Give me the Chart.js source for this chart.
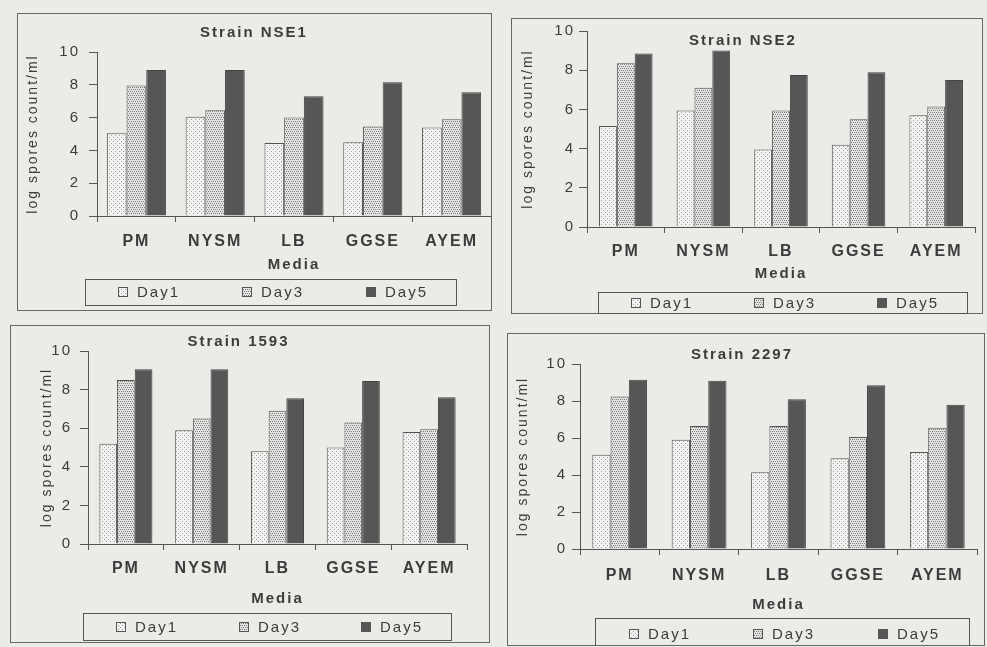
<!DOCTYPE html>
<html><head><meta charset="utf-8">
<script src="https://cdn.jsdelivr.net/npm/chart.js@4.4.1/dist/chart.umd.min.js"></script>
<style>
html,body{margin:0;padding:0;background:#ecebe8;}
body{width:987px;height:647px;position:relative;overflow:hidden;}
canvas{position:absolute;}
</style></head><body>
<canvas id="c1"></canvas>
<canvas id="c2"></canvas>
<canvas id="c3"></canvas>
<canvas id="c4"></canvas>
<script>
// ---- data ----
const categories = ['PM', 'NYSM', 'LB', 'GGSE', 'AYEM'];
const seriesNames = ['Day1', 'Day3', 'Day5'];
const yTicks = [0, 2, 4, 6, 8, 10];
const xTitle = 'Media';
const yTitle = 'log spores count/ml';
const titles = ['Strain NSE1', 'Strain NSE2', 'Strain 1593', 'Strain 2297'];

const nse1Day1 = [5.05, 6.05, 4.45, 4.5, 5.4];
const nse1Day3 = [7.95, 6.45, 6.0, 5.45, 5.9];
const nse1Day5 = [8.9, 8.9, 7.3, 8.15, 7.55];

const nse2Day1 = [5.15, 5.95, 3.95, 4.2, 5.7];
const nse2Day3 = [8.35, 7.1, 5.95, 5.5, 6.15];
const nse2Day5 = [8.85, 9.0, 7.75, 7.9, 7.5];

const s1593Day1 = [5.2, 5.9, 4.8, 5.0, 5.8];
const s1593Day3 = [8.5, 6.5, 6.9, 6.3, 5.95];
const s1593Day5 = [9.05, 9.05, 7.55, 8.45, 7.6];

const s2297Day1 = [5.1, 5.9, 4.15, 4.9, 5.25];
const s2297Day3 = [8.25, 6.65, 6.65, 6.05, 6.55];
const s2297Day5 = [9.15, 9.1, 8.1, 8.85, 7.8];

// ---- layout / style ----
const FONT = '"Liberation Sans", Arial, sans-serif';
const TXT = '#3c3c3c';
const LINE = '#555';

const layouts = [
  {id:'c1', frame:[17,13,475,298], yw:80, padR:1, tTop:11, tBot:10, hx:61, padB:34, yTitlePad:8, yTickPad:9, xTickPad:10, cat:0.75, box:[68,266,439,292]},
  {id:'c2', frame:[511,18,472,296], yw:76, padR:8, tTop:12, tBot:-19, hx:59, padB:28, yTitlePad:9, yTickPad:4, xTickPad:9, cat:0.69, box:[87,274,456,295]},
  {id:'c3', frame:[10,325,480,318], yw:78, padR:23, tTop:8, tBot:0, hx:67, padB:32, yTitlePad:29, yTickPad:8, xTickPad:9, cat:0.70, box:[73,288,441,315]},
  {id:'c4', frame:[507,333,478,313], yw:73, padR:8, tTop:13, tBot:0, hx:68, padB:29, yTitlePad:8, yTickPad:5, xTickPad:11, cat:0.69, box:[88,285,462,316]}
];
const panelData = [
  [nse1Day1, nse1Day3, nse1Day5],
  [nse2Day1, nse2Day3, nse2Day5],
  [s1593Day1, s1593Day3, s1593Day5],
  [s2297Day1, s2297Day3, s2297Day5]
];

function makePattern(ctx, bg, dot, dots, size) {
  const c = document.createElement('canvas');
  c.width = size; c.height = size;
  const g = c.getContext('2d');
  g.fillStyle = bg; g.fillRect(0, 0, size, size);
  g.fillStyle = dot;
  dots.forEach(([x, y]) => g.fillRect(x, y, 1, 1));
  return ctx.createPattern(c, 'repeat');
}

const spacingPlugin = {
  id: 'spacing',
  beforeUpdate(chart) { chart.ctx.letterSpacing = '2px'; },
  beforeDraw(chart) { chart.ctx.letterSpacing = '2px'; }
};
const framePlugin = {
  id: 'frame',
  afterDraw(chart) {
    const ctx = chart.ctx;
    ctx.save();
    ctx.strokeStyle = '#666'; ctx.lineWidth = 1;
    ctx.strokeRect(0.5, 0.5, chart.width - 1, chart.height - 1);
    ctx.restore();
  }
};
const legendBoxPlugin = {
  id: 'legendBox',
  afterDraw(chart, args, opts) {
    const ctx = chart.ctx;
    const [l, t, r, b] = opts.box;
    ctx.save();
    ctx.letterSpacing = '2px';
    ctx.strokeStyle = LINE; ctx.lineWidth = 1;
    ctx.strokeRect(l + 0.5, t + 0.5, r - l, b - t);
    const w = (r - l) / 3, cy = (t + b) / 2;
    chart.data.datasets.forEach((ds, i) => {
      const x = Math.round(l + w * i + 0.27 * w);
      ctx.fillStyle = ds.backgroundColor;
      ctx.fillRect(x, Math.round(cy - 5), 10, 10);
      ctx.strokeStyle = LINE;
      ctx.strokeRect(x + 0.5, Math.round(cy - 5) + 0.5, 9, 9);
      ctx.fillStyle = TXT;
      ctx.font = '15px ' + FONT;
      ctx.textBaseline = 'middle'; ctx.textAlign = 'left';
      ctx.fillText(ds.label, x + 19, cy + 1);
    });
    ctx.restore();
  }
};

layouts.forEach((L, p) => {
  const cv = document.getElementById(L.id);
  const [fx, fy, fw, fh] = L.frame;
  cv.width = fw; cv.height = fh;
  cv.style.left = fx + 'px'; cv.style.top = fy + 'px';
  cv.style.width = fw + 'px'; cv.style.height = fh + 'px';
  const ctx = cv.getContext('2d');
  const fills = [
    makePattern(ctx, '#f3f3f1', '#a0a0a0', [[0,0],[2,2]], 4),
    makePattern(ctx, '#e4e4e2', '#7c7c7c', [[0,0],[2,0],[1,2],[3,2]], 4),
    '#565656'
  ];
  new Chart(ctx, {
    type: 'bar',
    data: {
      labels: categories,
      datasets: seriesNames.map((name, i) => ({
        label: name,
        data: panelData[p][i],
        backgroundColor: fills[i],
        borderColor: i === 2 ? '#444' : LINE,
        borderWidth: 1,
        barPercentage: 1.0,
        categoryPercentage: L.cat
      }))
    },
    options: {
      responsive: false,
      animation: false,
      devicePixelRatio: 1,
      layout: { padding: { left: 0, right: L.padR, top: 0, bottom: L.padB } },
      plugins: {
        legend: { display: false },
        tooltip: { enabled: false },
        title: {
          display: true, text: titles[p], color: TXT,
          font: { family: FONT, size: 15, weight: 'bold', lineHeight: 1.2 },
          padding: { top: L.tTop, bottom: L.tBot }
        },
        legendBox: { box: L.box }
      },
      scales: {
        x: {
          grid: { display: true, drawOnChartArea: false, drawTicks: true, tickLength: 6, color: LINE, offset: true },
          border: { display: true, color: LINE, width: 1 },
          ticks: { color: TXT, padding: L.xTickPad, font: { family: FONT, size: 16, weight: 'bold', lineHeight: 1.2 }, maxRotation: 0, autoSkip: false },
          title: { display: true, text: xTitle, color: TXT, font: { family: FONT, size: 15, weight: 'bold', lineHeight: 1.2 }, padding: { top: 0, bottom: 3 } },
          afterFit(s) { s.height = L.hx; }
        },
        y: {
          min: 0, max: 10,
          afterBuildTicks(s) { s.ticks = yTicks.map(v => ({ value: v })); },
          grid: { display: true, drawOnChartArea: false, drawTicks: true, tickLength: 8, color: LINE },
          border: { display: true, color: LINE, width: 1 },
          ticks: { color: TXT, padding: L.yTickPad, font: { family: FONT, size: 15, lineHeight: 1.2 } },
          title: { display: true, text: yTitle, color: TXT, font: { family: FONT, size: 14, lineHeight: 1.2 }, padding: { top: L.yTitlePad, bottom: 0 } },
          afterFit(s) { s.width = L.yw; }
        }
      }
    },
    plugins: [spacingPlugin, framePlugin, legendBoxPlugin]
  });
});
</script>
</body></html>
